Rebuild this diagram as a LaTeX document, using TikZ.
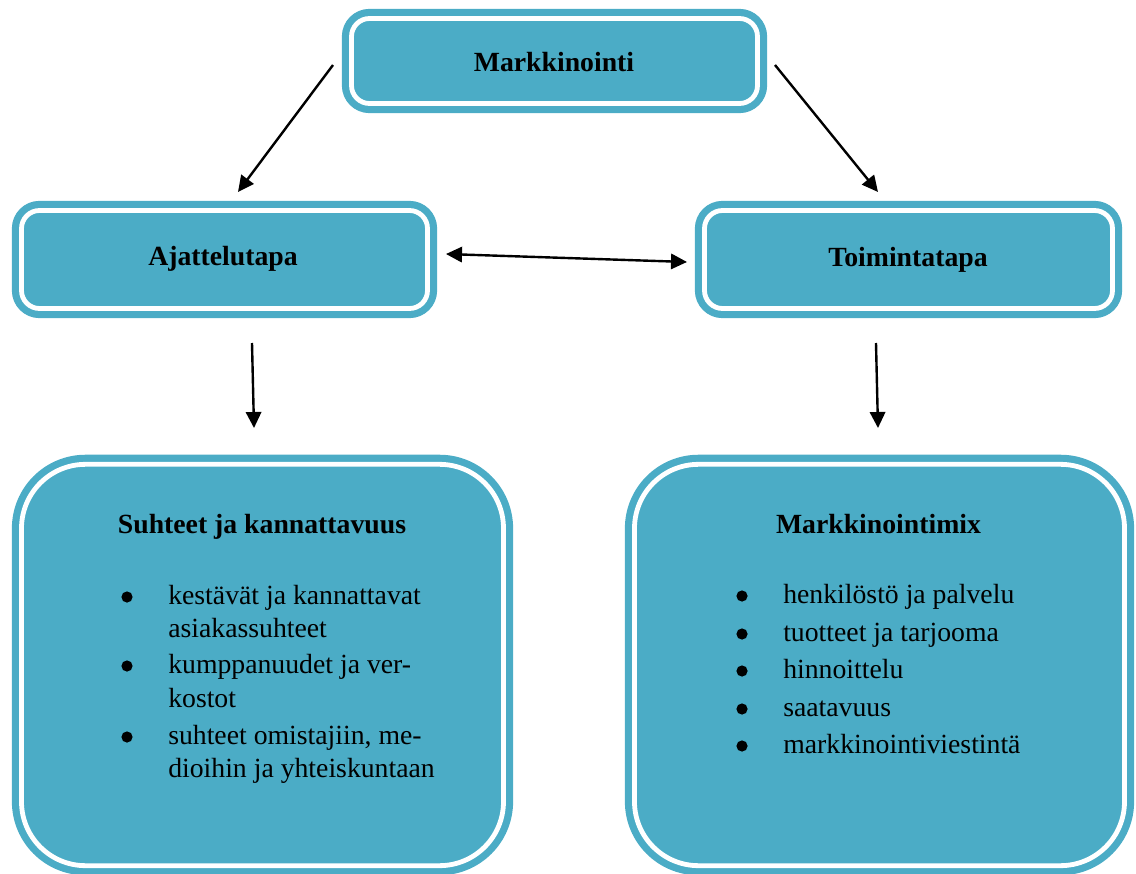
\documentclass[tikz,border=0pt]{standalone}
\usepackage{fontspec}
\setmainfont{Liberation Serif}
\usetikzlibrary{arrows.meta}
\definecolor{boxblue}{RGB}{75,172,198}
\begin{document}
\begin{tikzpicture}[x=0.75pt,y=-0.75pt,
  panel/.style={draw=boxblue, fill=boxblue, double=white, double distance=3.6pt,
    line width=5.4pt, rounded corners=#1, inner sep=0pt, rectangle},
  heading/.style={font=\fontsize{20.8}{25}\selectfont\bfseries, anchor=base, inner sep=0pt},
  item/.style={font=\fontsize{20.8}{25}\selectfont, anchor=base west, inner sep=0pt},
  dot/.style={circle, fill=black, inner sep=0pt, minimum size=8.4pt},
  link/.style={line width=1.8pt, -{Triangle[length=12pt,width=11.5pt]}},
  bilink/.style={line width=1.8pt, {Triangle[length=12pt,width=11.5pt]}-{Triangle[length=12pt,width=11.5pt]}}
]
\useasboundingbox (0,0) rectangle (1136,874);

% framed panels
\node[panel=13.5pt, minimum width=304.5pt, minimum height=63.75pt] (mark) at (554.5,61) {};
\node[panel=13.5pt, minimum width=304.5pt, minimum height=73.5pt] (ajat) at (224.5,259.5) {};
\node[panel=13.5pt, minimum width=306pt, minimum height=73.5pt] (toim) at (908.5,259.5) {};
\node[panel=48pt, minimum width=361.5pt, minimum height=301pt] (suht) at (262.5,665) {};
\node[panel=48pt, minimum width=367.5pt, minimum height=301pt] (mix) at (879.5,665) {};

% headings
\node[heading] (markT) at (554,72) {Markkinointi};
\node[heading] (ajatT) at (223,265) {Ajattelutapa};
\node[heading] (toimT) at (908,266) {Toimintatapa};
\node[heading] (suhtT) at (262,533) {Suhteet ja kannattavuus};
\node[heading] (mixT) at (878.5,533) {Markkinointimix};

% left list
\node[dot] (sb1) at (127,597) {};
\node[dot] (sb2) at (127,666) {};
\node[dot] (sb3) at (127,737) {};
\node[item] (s1a) at (168,604) {kestävät ja kannattavat};
\node[item] (s1b) at (168,637) {asiakassuhteet};
\node[item] (s2a) at (168,673) {kumppanuudet ja ver-};
\node[item] (s2b) at (168,707) {kostot};
\node[item] (s3a) at (168,744) {suhteet omistajiin, me-};
\node[item] (s3b) at (168,777) {dioihin ja yhteiskuntaan};

% right list
\node[dot] (mb1) at (742,596) {};
\node[dot] (mb2) at (742,634) {};
\node[dot] (mb3) at (742,671) {};
\node[dot] (mb4) at (742,709) {};
\node[dot] (mb5) at (742,746) {};
\node[item] (m1) at (783,603) {henkilöstö ja palvelu};
\node[item] (m2) at (783,641) {tuotteet ja tarjooma};
\node[item] (m3) at (783,678) {hinnoittelu};
\node[item] (m4) at (783,716) {saatavuus};
\node[item] (m5) at (783,753) {markkinointiviestintä};

% connector end points
\coordinate (l1s) at (333,65);
\coordinate (l1e) at (238,192);
\coordinate (r1s) at (775,65);
\coordinate (r1e) at (878,192);
\coordinate (bl) at (446,254);
\coordinate (br) at (687,262);
\coordinate (l2s) at (252,343);
\coordinate (l2e) at (254,428);
\coordinate (r2s) at (876,343);
\coordinate (r2e) at (878,428);

\draw[link] (l1s) -- (l1e);
\draw[link] (r1s) -- (r1e);
\draw[bilink] (bl) -- (br);
\draw[link] (l2s) -- (l2e);
\draw[link] (r2s) -- (r2e);
\end{tikzpicture}
\end{document}
